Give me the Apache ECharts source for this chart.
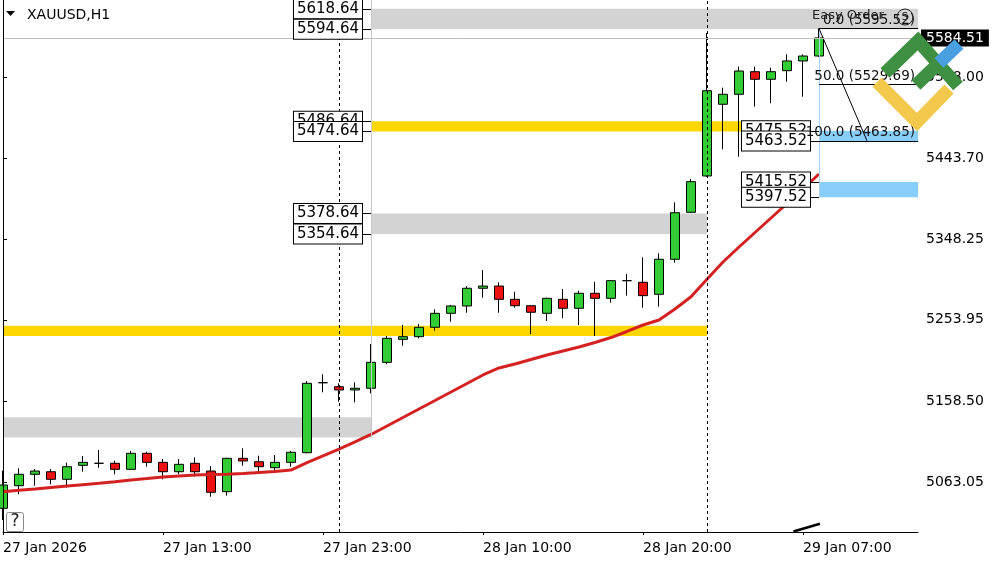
<!DOCTYPE html>
<html><head><meta charset="utf-8">
<script src="https://cdn.jsdelivr.net/npm/echarts@6/dist/echarts.min.js"></script>
<style>html,body{margin:0;padding:0;background:#fff}#c{width:1000px;height:562px}</style>
</head><body><div id="c"></div>
<script>
// ---------- data ----------
const symbolTitle = 'XAUUSD,H1';
const xTickBars = [0, 10, 20, 30, 40, 50];
const xTickLabels = ['27 Jan 2026', '27 Jan 13:00', '27 Jan 23:00', '28 Jan 10:00', '28 Jan 20:00', '29 Jan 07:00'];
const yTickValues = [5063.05, 5158.50, 5253.95, 5348.25, 5443.70, 5538.00];

const opens = [5032.8, 5059.3, 5072.7, 5075.7, 5066.8, 5083.2, 5085.6, 5085.6, 5078.5, 5097.3,
  5086.7, 5075.7, 5085.6, 5076.5, 5052.3, 5091.4, 5087.4, 5080.4, 5086.7, 5098.0,
  5180.1, 5175.4, 5171.6, 5173.6, 5204.0, 5231.0, 5234.1, 5245.1, 5261.5, 5270.1,
  5290.9, 5293.5, 5277.9, 5270.4, 5261.5, 5277.9, 5267.4, 5285.0, 5279.1, 5299.8,
  5297.9, 5283.8, 5324.9, 5380.0, 5422.6, 5506.7, 5518.4, 5544.9, 5536.0, 5546.1,
  5557.5, 5563.3];
const closes = [5060.1, 5072.7, 5076.5, 5066.8, 5081.6, 5086.7, 5085.6, 5078.5, 5097.3, 5086.7,
  5075.7, 5084.4, 5075.7, 5051.6, 5091.4, 5088.3, 5081.6, 5086.7, 5098.5, 5179.4,
  5180.1, 5171.6, 5173.6, 5204.0, 5232.2, 5234.1, 5245.1, 5261.5, 5270.1, 5290.9,
  5293.5, 5277.9, 5270.4, 5262.7, 5279.1, 5267.4, 5285.0, 5279.1, 5299.8, 5299.8,
  5282.2, 5324.9, 5379.5, 5415.9, 5522.6, 5518.4, 5545.7, 5536.0, 5544.9, 5557.5,
  5563.3, 5584.51];
const highs = [5076.9, 5079.7, 5078.9, 5078.9, 5086.3, 5094.1, 5101.2, 5088.6, 5100.0, 5099.2,
  5090.6, 5090.6, 5092.6, 5082.4, 5092.0, 5103.2, 5094.5, 5095.3, 5100.0, 5182.1,
  5190.0, 5179.4, 5180.6, 5225.5, 5234.9, 5247.8, 5249.0, 5266.2, 5271.3, 5293.5,
  5312.3, 5297.9, 5286.9, 5271.0, 5279.6, 5290.0, 5288.0, 5298.6, 5300.3, 5307.6,
  5327.2, 5331.9, 5391.7, 5419.1, 5590.3, 5526.2, 5550.8, 5550.8, 5549.6, 5565.3,
  5565.3, 5595.52];
const lows = [5019.1, 5049.2, 5059.3, 5060.9, 5057.0, 5075.7, 5080.4, 5072.7, 5077.7, 5081.6,
  5066.8, 5072.7, 5069.9, 5046.4, 5047.6, 5082.8, 5075.0, 5076.9, 5081.6, 5097.3,
  5168.9, 5157.8, 5157.1, 5167.7, 5201.7, 5223.5, 5232.2, 5241.1, 5251.7, 5262.2,
  5279.8, 5262.2, 5268.1, 5237.2, 5252.5, 5255.7, 5247.8, 5234.9, 5274.0, 5282.2,
  5268.1, 5269.3, 5320.9, 5379.3, 5421.5, 5453.9, 5445.2, 5503.9, 5507.9, 5533.2,
  5515.6, 5562.5];
const maValues = [5052.3, 5053.9, 5055.4, 5057.2, 5058.9, 5060.5, 5062.1, 5063.9, 5066.0, 5067.7,
  5069.5, 5070.7, 5071.9, 5072.4, 5072.8, 5073.6, 5074.8, 5076.0, 5077.7, 5086.3,
  5094.4, 5102.3, 5110.6, 5119.4, 5129.3, 5139.3, 5149.3, 5159.2, 5169.2, 5179.2,
  5189.2, 5197.4, 5202.1, 5207.3, 5212.6, 5217.3, 5222.0, 5227.3, 5233.1, 5240.2,
  5247.8, 5253.7, 5266.6, 5281.0, 5301.5, 5321.7, 5339.3, 5356.3, 5373.3, 5390.3,
  5407.3, 5424.9];

const currentPrice = 5584.51;
const separatorBars = [21, 44];

const zoneHigh = [5618.64, 5486.64, 5378.64, 5246.8, 5139.5, 5475.52, 5415.52];
const zoneLow = [5594.64, 5474.64, 5354.64, 5235.0, 5115.8, 5463.52, 5397.52];
const zoneStartBar = [23, 23, 23, 0, 0, 51, 51];
const zoneEndBar = [null, 47, 44, 44, 23, null, null]; // null = to right edge
const zoneKind = ['gray', 'yellow', 'gray', 'yellow', 'gray', 'blue', 'blue'];
const zoneLabeled = [true, true, true, false, false, true, true];

const fibLevels = ['0.0', '50.0', '100.0'];
const fibPrices = [5595.52, 5529.69, 5463.85];
const fibStartBar = 51;
const fibTrendEndBar = 54;

// ---------- layout / style ----------
const X_MAX = 57.1875;
const Y_MIN = 5005.0, Y_MAX = 5629.0;
const FONT = 'DejaVu Sans';
const zoneColors = { gray: '#d3d3d3', yellow: '#ffd700', blue: '#87cefa' };
const LABEL_GAP = 0.5625;

const candleData = opens.map((o, i) => {
  const item = { value: [i, o, closes[i], lows[i], highs[i]] };
  if (o === closes[i]) item.itemStyle = { color: '#000', borderColor: '#000', color0: '#000', borderColor0: '#000' };
  return item;
});
const maData = maValues.map((v, i) => [i, v]);

const areaData = zoneHigh.map((h, i) => [
  { xAxis: zoneStartBar[i], yAxis: h, itemStyle: { color: zoneColors[zoneKind[i]], opacity: 1 } },
  { xAxis: zoneEndBar[i] === null ? X_MAX : zoneEndBar[i], yAxis: zoneLow[i] }
]);

const guideLines = separatorBars.map(b => ({
  xAxis: b, lineStyle: { color: '#000', type: [3, 3], width: 1 }, label: { show: false }
}));
guideLines.push([
  { coord: [23, Y_MAX], lineStyle: { color: '#c8c8c8', type: 'solid', width: 1 }, label: { show: false } },
  { coord: [23, zoneLow[4]] }
]);
guideLines.push([
  { coord: [fibStartBar, fibPrices[0]], lineStyle: { color: '#a9d5f2', type: 'solid', width: 1 }, label: { show: false } },
  { coord: [fibStartBar, zoneLow[6]] }
]);

const labelLines = [];
zoneHigh.forEach((h, i) => {
  if (!zoneLabeled[i]) return;
  [h, zoneLow[i]].forEach(v => {
    labelLines.push([
      { coord: [zoneStartBar[i] - LABEL_GAP, v],
        lineStyle: { color: '#000', type: 'solid', width: 1 },
        label: { show: true, position: 'start', distance: 0, formatter: v.toFixed(2),
          fontFamily: FONT, fontSize: 15, color: '#000', backgroundColor: '#fff',
          borderColor: '#000', borderWidth: 1, padding: [1, 3, 0, 3], lineHeight: 18 } },
      { coord: [zoneStartBar[i], v] }
    ]);
  });
});
fibPrices.forEach((p, i) => {
  labelLines.push([
    { coord: [fibStartBar, p], lineStyle: { color: '#000', type: 'solid', width: 1 },
      label: { show: true, position: 'insideEndTop', distance: [3, 1], formatter: fibLevels[i] + ' (' + p.toFixed(2) + ')',
        fontFamily: FONT, fontSize: 13.5, color: '#111' } },
    { coord: [X_MAX, p] }
  ]);
});
labelLines.push([
  { coord: [fibStartBar, fibPrices[0]], lineStyle: { color: '#000', type: 'solid', width: 1 }, label: { show: false } },
  { coord: [fibTrendEndBar, fibPrices[2]] }
]);
labelLines.push([
  { coord: [49.4, 5005.5], lineStyle: { color: '#000', type: 'solid', width: 2.5 }, label: { show: false } },
  { coord: [51.06, 5014.6] }
]);
labelLines.push({
  yAxis: currentPrice, lineStyle: { color: '#c0c0c0', type: 'solid', width: 1 },
  label: { show: true, position: 'end', distance: 3, formatter: currentPrice.toFixed(2),
    fontFamily: FONT, fontSize: 14, color: '#fff', backgroundColor: '#000', padding: [2, 5, 1, 5] }
});

const chart = echarts.init(document.getElementById('c'), null, { renderer: 'canvas' });
chart.setOption({
  animation: false,
  backgroundColor: '#fff',
  grid: { left: 3, right: 82, top: 0, bottom: 30, containLabel: false },
  xAxis: {
    type: 'value', min: 0, max: X_MAX,
    axisLine: { show: true, lineStyle: { color: '#000', width: 1 } },
    axisTick: { show: true, customValues: xTickBars, length: 3, lineStyle: { color: '#000' } },
    axisLabel: { show: true, customValues: xTickBars, align: 'left', margin: 9,
      fontFamily: FONT, fontSize: 14, color: '#000',
      formatter: v => xTickLabels[xTickBars.indexOf(Math.round(v))] || '' },
    splitLine: { show: false }
  },
  yAxis: {
    type: 'value', position: 'right', min: Y_MIN, max: Y_MAX, scale: true,
    axisLine: { show: true, lineStyle: { color: '#000', width: 1 } },
    axisTick: { show: true, customValues: yTickValues, length: 4, lineStyle: { color: '#000' } },
    axisLabel: { show: true, customValues: yTickValues, margin: 8, fontFamily: FONT, fontSize: 14, color: '#000',
      formatter: v => v.toFixed(2) },
    splitLine: { show: false }
  },
  series: [
    { type: 'line', data: [], z: 1, silent: true,
      markArea: { silent: true, data: areaData },
      markLine: { silent: true, symbol: ['none', 'none'], animation: false, data: guideLines } },
    { type: 'candlestick', z: 2, data: candleData, encode: { x: 0, y: [1, 2, 3, 4] }, barWidth: 10,
      itemStyle: { color: '#32cd32', color0: '#ee1111', borderColor: '#000', borderColor0: '#000', borderWidth: 1 } },
    { type: 'line', z: 3, data: maData, showSymbol: false, symbol: 'none',
      lineStyle: { color: '#d42222', width: 3 } },
    { type: 'line', data: [], z: 5, silent: true,
      markLine: { silent: true, symbol: ['none', 'none'], animation: false, data: labelLines } }
  ],
  graphic: [
    { type: 'line', z: 50, shape: { x1: 3.5, y1: 38, x2: 3.5, y2: 532 }, style: { stroke: '#000', lineWidth: 1 } },
    { type: 'polygon', z: 50, shape: { points: [[6, 11], [15, 11], [10.5, 16]] }, style: { fill: '#000' } },
    { type: 'text', z: 50, left: 27, top: 8, style: { text: symbolTitle, font: '14px "DejaVu Sans"', fill: '#000' } },
    { type: 'rect', z: 50, shape: { x: 6.5, y: 512.5, width: 17, height: 19, r: 2 }, style: { fill: '#fff', stroke: '#888', lineWidth: 1 } },
    { type: 'text', z: 51, x: 15, y: 522, style: { text: '?', font: '17px "DejaVu Sans"', fill: '#222', align: 'center', verticalAlign: 'middle' } },
    { type: 'text', z: 51, x: 812, y: 16, style: { text: 'Easy Order', font: '13px "DejaVu Sans"', fill: '#222', verticalAlign: 'middle' } },
    { type: 'circle', z: 51, shape: { cx: 905, cy: 17, r: 8 }, style: { fill: 'none', stroke: '#222', lineWidth: 1 } },
    { type: 'text', z: 51, x: 905, y: 17, style: { text: 'S', font: '10px "DejaVu Sans"', fill: '#222', align: 'center', verticalAlign: 'middle' } },
    { type: 'polyline', z: 100, shape: { points: [[877, 82], [917, 122], [949, 89]] }, style: { stroke: '#f2c94c', lineWidth: 13, fill: null } },
    { type: 'polyline', z: 101, shape: { points: [[885, 73], [918, 41], [958, 86]] }, style: { stroke: '#3f8f43', lineWidth: 13, fill: null } },
    { type: 'line', z: 101, shape: { x1: 916, y1: 85, x2: 939, y2: 63 }, style: { stroke: '#3f8f43', lineWidth: 13 } },
    { type: 'line', z: 102, shape: { x1: 939, y1: 63, x2: 959, y2: 44 }, style: { stroke: '#4a9fe0', lineWidth: 13 } }
  ]
});
</script></body></html>
